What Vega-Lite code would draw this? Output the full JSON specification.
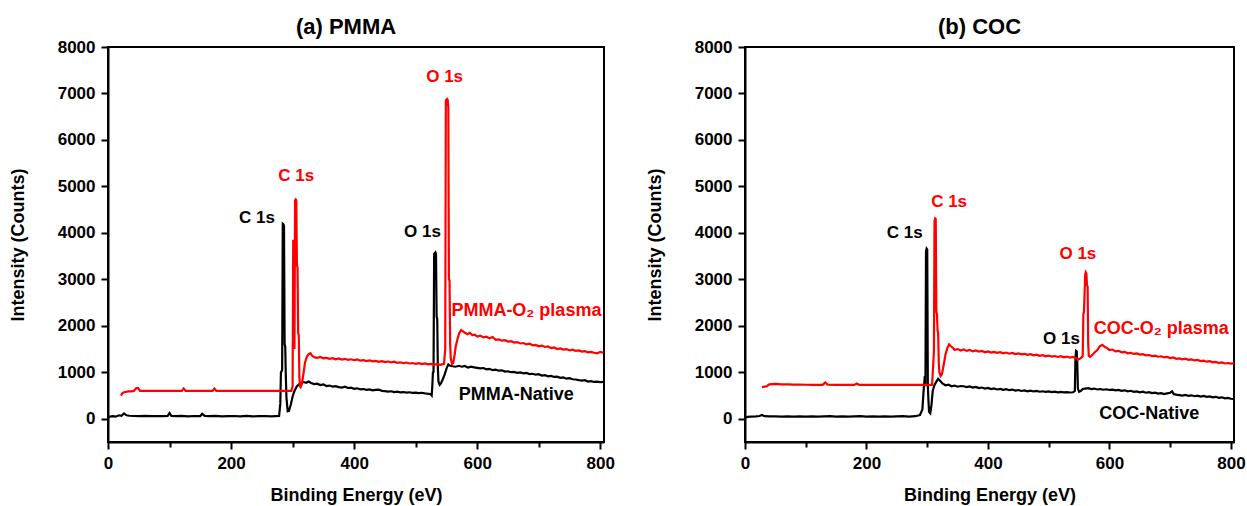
{
  "$schema": "https://vega.github.io/schema/vega-lite/v6.json",
  "padding": {"left": 8, "top": 15, "right": 2, "bottom": 2},
  "background": "white",
  "spacing": 29,
  "config": {
    "view": {"stroke": "black", "strokeWidth": 2},
    "font": "Liberation Sans",
    "axis": {
      "grid": false,
      "labelOverlap": false,
      "labelFlush": false,
      "domainColor": "black",
      "domainWidth": 2,
      "tickColor": "black",
      "tickWidth": 2,
      "labelFont": "Liberation Sans",
      "labelFontSize": 17,
      "labelFontWeight": "bold",
      "labelColor": "black",
      "titleFont": "Liberation Sans",
      "titleFontSize": 18,
      "titleFontWeight": "bold",
      "titleColor": "black"
    },
    "title": {"font": "Liberation Sans", "fontSize": 22, "fontWeight": "bold", "color": "black", "anchor": "middle", "offset": -1}
  },
  "datasets": {
    "spectra": [
      {"p":"a","s":"native","x":0,"y":20},{"p":"a","s":"native","x":3,"y":45},{"p":"a","s":"native","x":8,"y":55},{"p":"a","s":"native","x":12,"y":45},{"p":"a","s":"native","x":18,"y":75},{"p":"a","s":"native","x":22,"y":65},{"p":"a","s":"native","x":26,"y":115},{"p":"a","s":"native","x":30,"y":75},{"p":"a","s":"native","x":35,"y":65},{"p":"a","s":"native","x":42,"y":60},{"p":"a","s":"native","x":50,"y":58},{"p":"a","s":"native","x":60,"y":62},{"p":"a","s":"native","x":70,"y":55},{"p":"a","s":"native","x":80,"y":60},{"p":"a","s":"native","x":90,"y":55},{"p":"a","s":"native","x":97,"y":62},{"p":"a","s":"native","x":100,"y":125},{"p":"a","s":"native","x":103,"y":62},{"p":"a","s":"native","x":110,"y":55},{"p":"a","s":"native","x":120,"y":60},{"p":"a","s":"native","x":130,"y":52},{"p":"a","s":"native","x":140,"y":60},{"p":"a","s":"native","x":150,"y":58},{"p":"a","s":"native","x":153,"y":105},{"p":"a","s":"native","x":157,"y":62},{"p":"a","s":"native","x":165,"y":55},{"p":"a","s":"native","x":175,"y":60},{"p":"a","s":"native","x":185,"y":50},{"p":"a","s":"native","x":195,"y":58},{"p":"a","s":"native","x":205,"y":60},{"p":"a","s":"native","x":215,"y":52},{"p":"a","s":"native","x":225,"y":60},{"p":"a","s":"native","x":235,"y":50},{"p":"a","s":"native","x":245,"y":58},{"p":"a","s":"native","x":255,"y":60},{"p":"a","s":"native","x":265,"y":50},{"p":"a","s":"native","x":272,"y":55},{"p":"a","s":"native","x":278,"y":60},{"p":"a","s":"native","x":280,"y":320},{"p":"a","s":"native","x":281,"y":1000},{"p":"a","s":"native","x":282,"y":1020},{"p":"a","s":"native","x":283,"y":1050},{"p":"a","s":"native","x":284,"y":4200},{"p":"a","s":"native","x":285,"y":4190},{"p":"a","s":"native","x":286,"y":4150},{"p":"a","s":"native","x":287,"y":1600},{"p":"a","s":"native","x":288,"y":1550},{"p":"a","s":"native","x":289,"y":900},{"p":"a","s":"native","x":290,"y":450},{"p":"a","s":"native","x":292,"y":160},{"p":"a","s":"native","x":294,"y":170},{"p":"a","s":"native","x":297,"y":300},{"p":"a","s":"native","x":300,"y":480},{"p":"a","s":"native","x":303,"y":600},{"p":"a","s":"native","x":307,"y":700},{"p":"a","s":"native","x":312,"y":760},{"p":"a","s":"native","x":318,"y":790},{"p":"a","s":"native","x":322,"y":775},{"p":"a","s":"native","x":326,"y":800},{"p":"a","s":"native","x":330,"y":770},{"p":"a","s":"native","x":335,"y":745},{"p":"a","s":"native","x":340,"y":755},{"p":"a","s":"native","x":345,"y":725},{"p":"a","s":"native","x":350,"y":740},{"p":"a","s":"native","x":355,"y":705},{"p":"a","s":"native","x":360,"y":715},{"p":"a","s":"native","x":365,"y":690},{"p":"a","s":"native","x":370,"y":700},{"p":"a","s":"native","x":375,"y":680},{"p":"a","s":"native","x":380,"y":672},{"p":"a","s":"native","x":385,"y":690},{"p":"a","s":"native","x":390,"y":662},{"p":"a","s":"native","x":395,"y":668},{"p":"a","s":"native","x":400,"y":645},{"p":"a","s":"native","x":405,"y":655},{"p":"a","s":"native","x":410,"y":632},{"p":"a","s":"native","x":415,"y":640},{"p":"a","s":"native","x":420,"y":622},{"p":"a","s":"native","x":425,"y":630},{"p":"a","s":"native","x":430,"y":610},{"p":"a","s":"native","x":435,"y":620},{"p":"a","s":"native","x":440,"y":628},{"p":"a","s":"native","x":445,"y":600},{"p":"a","s":"native","x":450,"y":595},{"p":"a","s":"native","x":455,"y":585},{"p":"a","s":"native","x":460,"y":592},{"p":"a","s":"native","x":465,"y":575},{"p":"a","s":"native","x":470,"y":582},{"p":"a","s":"native","x":475,"y":570},{"p":"a","s":"native","x":480,"y":575},{"p":"a","s":"native","x":485,"y":562},{"p":"a","s":"native","x":490,"y":570},{"p":"a","s":"native","x":495,"y":558},{"p":"a","s":"native","x":500,"y":562},{"p":"a","s":"native","x":505,"y":552},{"p":"a","s":"native","x":510,"y":560},{"p":"a","s":"native","x":515,"y":545},{"p":"a","s":"native","x":520,"y":538},{"p":"a","s":"native","x":524,"y":530},{"p":"a","s":"native","x":526,"y":500},{"p":"a","s":"native","x":527,"y":700},{"p":"a","s":"native","x":528,"y":1000},{"p":"a","s":"native","x":529,"y":1010},{"p":"a","s":"native","x":530,"y":3550},{"p":"a","s":"native","x":532,"y":3580},{"p":"a","s":"native","x":533,"y":3540},{"p":"a","s":"native","x":534,"y":2200},{"p":"a","s":"native","x":535,"y":2150},{"p":"a","s":"native","x":536,"y":1100},{"p":"a","s":"native","x":537,"y":800},{"p":"a","s":"native","x":539,"y":730},{"p":"a","s":"native","x":541,"y":760},{"p":"a","s":"native","x":544,"y":850},{"p":"a","s":"native","x":547,"y":950},{"p":"a","s":"native","x":550,"y":1080},{"p":"a","s":"native","x":553,"y":1170},{"p":"a","s":"native","x":556,"y":1140},{"p":"a","s":"native","x":560,"y":1130},{"p":"a","s":"native","x":565,"y":1120},{"p":"a","s":"native","x":570,"y":1140},{"p":"a","s":"native","x":575,"y":1120},{"p":"a","s":"native","x":580,"y":1135},{"p":"a","s":"native","x":585,"y":1100},{"p":"a","s":"native","x":590,"y":1120},{"p":"a","s":"native","x":595,"y":1105},{"p":"a","s":"native","x":600,"y":1095},{"p":"a","s":"native","x":605,"y":1085},{"p":"a","s":"native","x":610,"y":1092},{"p":"a","s":"native","x":615,"y":1065},{"p":"a","s":"native","x":620,"y":1075},{"p":"a","s":"native","x":625,"y":1045},{"p":"a","s":"native","x":630,"y":1058},{"p":"a","s":"native","x":635,"y":1035},{"p":"a","s":"native","x":640,"y":1042},{"p":"a","s":"native","x":645,"y":1015},{"p":"a","s":"native","x":650,"y":1022},{"p":"a","s":"native","x":655,"y":1002},{"p":"a","s":"native","x":660,"y":1010},{"p":"a","s":"native","x":665,"y":990},{"p":"a","s":"native","x":670,"y":998},{"p":"a","s":"native","x":675,"y":978},{"p":"a","s":"native","x":680,"y":985},{"p":"a","s":"native","x":685,"y":960},{"p":"a","s":"native","x":690,"y":968},{"p":"a","s":"native","x":695,"y":948},{"p":"a","s":"native","x":700,"y":958},{"p":"a","s":"native","x":705,"y":930},{"p":"a","s":"native","x":710,"y":940},{"p":"a","s":"native","x":715,"y":912},{"p":"a","s":"native","x":720,"y":922},{"p":"a","s":"native","x":725,"y":900},{"p":"a","s":"native","x":730,"y":905},{"p":"a","s":"native","x":735,"y":880},{"p":"a","s":"native","x":740,"y":890},{"p":"a","s":"native","x":745,"y":862},{"p":"a","s":"native","x":750,"y":872},{"p":"a","s":"native","x":755,"y":850},{"p":"a","s":"native","x":760,"y":845},{"p":"a","s":"native","x":765,"y":832},{"p":"a","s":"native","x":770,"y":822},{"p":"a","s":"native","x":775,"y":830},{"p":"a","s":"native","x":780,"y":800},{"p":"a","s":"native","x":785,"y":810},{"p":"a","s":"native","x":790,"y":792},{"p":"a","s":"native","x":795,"y":798},{"p":"a","s":"native","x":800,"y":790},{"p":"a","s":"native","x":805,"y":792},

      {"p":"a","s":"plasma","x":21,"y":500},{"p":"a","s":"plasma","x":24,"y":560},{"p":"a","s":"plasma","x":28,"y":575},{"p":"a","s":"plasma","x":33,"y":590},{"p":"a","s":"plasma","x":38,"y":590},{"p":"a","s":"plasma","x":42,"y":600},{"p":"a","s":"plasma","x":46,"y":660},{"p":"a","s":"plasma","x":49,"y":660},{"p":"a","s":"plasma","x":52,"y":600},{"p":"a","s":"plasma","x":60,"y":600},{"p":"a","s":"plasma","x":80,"y":600},{"p":"a","s":"plasma","x":100,"y":600},{"p":"a","s":"plasma","x":120,"y":600},{"p":"a","s":"plasma","x":123,"y":650},{"p":"a","s":"plasma","x":126,"y":600},{"p":"a","s":"plasma","x":150,"y":600},{"p":"a","s":"plasma","x":170,"y":600},{"p":"a","s":"plasma","x":173,"y":650},{"p":"a","s":"plasma","x":176,"y":600},{"p":"a","s":"plasma","x":210,"y":600},{"p":"a","s":"plasma","x":250,"y":600},{"p":"a","s":"plasma","x":298,"y":600},{"p":"a","s":"plasma","x":300,"y":700},{"p":"a","s":"plasma","x":301,"y":3850},{"p":"a","s":"plasma","x":302,"y":3800},{"p":"a","s":"plasma","x":303,"y":1500},{"p":"a","s":"plasma","x":304,"y":4700},{"p":"a","s":"plasma","x":305,"y":4720},{"p":"a","s":"plasma","x":306,"y":4700},{"p":"a","s":"plasma","x":307,"y":3300},{"p":"a","s":"plasma","x":308,"y":3250},{"p":"a","s":"plasma","x":309,"y":1850},{"p":"a","s":"plasma","x":310,"y":1800},{"p":"a","s":"plasma","x":311,"y":900},{"p":"a","s":"plasma","x":312,"y":700},{"p":"a","s":"plasma","x":313,"y":680},{"p":"a","s":"plasma","x":315,"y":750},{"p":"a","s":"plasma","x":318,"y":1000},{"p":"a","s":"plasma","x":320,"y":1200},{"p":"a","s":"plasma","x":323,"y":1330},{"p":"a","s":"plasma","x":326,"y":1390},{"p":"a","s":"plasma","x":329,"y":1410},{"p":"a","s":"plasma","x":332,"y":1350},{"p":"a","s":"plasma","x":336,"y":1320},{"p":"a","s":"plasma","x":340,"y":1310},{"p":"a","s":"plasma","x":345,"y":1330},{"p":"a","s":"plasma","x":350,"y":1300},{"p":"a","s":"plasma","x":355,"y":1310},{"p":"a","s":"plasma","x":360,"y":1290},{"p":"a","s":"plasma","x":365,"y":1305},{"p":"a","s":"plasma","x":370,"y":1280},{"p":"a","s":"plasma","x":375,"y":1300},{"p":"a","s":"plasma","x":380,"y":1275},{"p":"a","s":"plasma","x":385,"y":1290},{"p":"a","s":"plasma","x":390,"y":1268},{"p":"a","s":"plasma","x":395,"y":1280},{"p":"a","s":"plasma","x":400,"y":1260},{"p":"a","s":"plasma","x":405,"y":1275},{"p":"a","s":"plasma","x":410,"y":1250},{"p":"a","s":"plasma","x":415,"y":1262},{"p":"a","s":"plasma","x":420,"y":1240},{"p":"a","s":"plasma","x":425,"y":1255},{"p":"a","s":"plasma","x":430,"y":1235},{"p":"a","s":"plasma","x":435,"y":1245},{"p":"a","s":"plasma","x":440,"y":1225},{"p":"a","s":"plasma","x":445,"y":1240},{"p":"a","s":"plasma","x":450,"y":1220},{"p":"a","s":"plasma","x":455,"y":1232},{"p":"a","s":"plasma","x":460,"y":1215},{"p":"a","s":"plasma","x":465,"y":1228},{"p":"a","s":"plasma","x":470,"y":1205},{"p":"a","s":"plasma","x":475,"y":1215},{"p":"a","s":"plasma","x":480,"y":1195},{"p":"a","s":"plasma","x":485,"y":1210},{"p":"a","s":"plasma","x":490,"y":1190},{"p":"a","s":"plasma","x":495,"y":1200},{"p":"a","s":"plasma","x":500,"y":1180},{"p":"a","s":"plasma","x":505,"y":1195},{"p":"a","s":"plasma","x":510,"y":1175},{"p":"a","s":"plasma","x":515,"y":1190},{"p":"a","s":"plasma","x":520,"y":1170},{"p":"a","s":"plasma","x":525,"y":1180},{"p":"a","s":"plasma","x":530,"y":1165},{"p":"a","s":"plasma","x":535,"y":1175},{"p":"a","s":"plasma","x":540,"y":1160},{"p":"a","s":"plasma","x":543,"y":1170},{"p":"a","s":"plasma","x":546,"y":1180},{"p":"a","s":"plasma","x":548,"y":1500},{"p":"a","s":"plasma","x":549,"y":6850},{"p":"a","s":"plasma","x":551,"y":6880},{"p":"a","s":"plasma","x":552,"y":6860},{"p":"a","s":"plasma","x":553,"y":6700},{"p":"a","s":"plasma","x":554,"y":3000},{"p":"a","s":"plasma","x":555,"y":2980},{"p":"a","s":"plasma","x":556,"y":1600},{"p":"a","s":"plasma","x":557,"y":1300},{"p":"a","s":"plasma","x":559,"y":1180},{"p":"a","s":"plasma","x":561,"y":1200},{"p":"a","s":"plasma","x":563,"y":1350},{"p":"a","s":"plasma","x":565,"y":1550},{"p":"a","s":"plasma","x":568,"y":1720},{"p":"a","s":"plasma","x":571,"y":1850},{"p":"a","s":"plasma","x":574,"y":1910},{"p":"a","s":"plasma","x":577,"y":1880},{"p":"a","s":"plasma","x":580,"y":1850},{"p":"a","s":"plasma","x":584,"y":1820},{"p":"a","s":"plasma","x":588,"y":1850},{"p":"a","s":"plasma","x":592,"y":1800},{"p":"a","s":"plasma","x":596,"y":1810},{"p":"a","s":"plasma","x":600,"y":1770},{"p":"a","s":"plasma","x":605,"y":1790},{"p":"a","s":"plasma","x":610,"y":1750},{"p":"a","s":"plasma","x":615,"y":1765},{"p":"a","s":"plasma","x":620,"y":1730},{"p":"a","s":"plasma","x":625,"y":1760},{"p":"a","s":"plasma","x":630,"y":1700},{"p":"a","s":"plasma","x":635,"y":1710},{"p":"a","s":"plasma","x":640,"y":1680},{"p":"a","s":"plasma","x":645,"y":1690},{"p":"a","s":"plasma","x":650,"y":1660},{"p":"a","s":"plasma","x":655,"y":1670},{"p":"a","s":"plasma","x":660,"y":1640},{"p":"a","s":"plasma","x":665,"y":1650},{"p":"a","s":"plasma","x":670,"y":1620},{"p":"a","s":"plasma","x":675,"y":1630},{"p":"a","s":"plasma","x":680,"y":1600},{"p":"a","s":"plasma","x":685,"y":1615},{"p":"a","s":"plasma","x":690,"y":1580},{"p":"a","s":"plasma","x":695,"y":1590},{"p":"a","s":"plasma","x":700,"y":1560},{"p":"a","s":"plasma","x":705,"y":1575},{"p":"a","s":"plasma","x":710,"y":1545},{"p":"a","s":"plasma","x":715,"y":1555},{"p":"a","s":"plasma","x":720,"y":1520},{"p":"a","s":"plasma","x":725,"y":1535},{"p":"a","s":"plasma","x":730,"y":1500},{"p":"a","s":"plasma","x":735,"y":1515},{"p":"a","s":"plasma","x":740,"y":1490},{"p":"a","s":"plasma","x":745,"y":1500},{"p":"a","s":"plasma","x":750,"y":1470},{"p":"a","s":"plasma","x":755,"y":1485},{"p":"a","s":"plasma","x":760,"y":1460},{"p":"a","s":"plasma","x":765,"y":1470},{"p":"a","s":"plasma","x":770,"y":1445},{"p":"a","s":"plasma","x":775,"y":1455},{"p":"a","s":"plasma","x":780,"y":1430},{"p":"a","s":"plasma","x":785,"y":1440},{"p":"a","s":"plasma","x":790,"y":1420},{"p":"a","s":"plasma","x":795,"y":1410},{"p":"a","s":"plasma","x":800,"y":1440},{"p":"a","s":"plasma","x":805,"y":1420},

      {"p":"b","s":"native","x":0,"y":20},{"p":"b","s":"native","x":4,"y":40},{"p":"b","s":"native","x":10,"y":45},{"p":"b","s":"native","x":18,"y":50},{"p":"b","s":"native","x":24,"y":60},{"p":"b","s":"native","x":28,"y":80},{"p":"b","s":"native","x":32,"y":55},{"p":"b","s":"native","x":40,"y":50},{"p":"b","s":"native","x":50,"y":52},{"p":"b","s":"native","x":60,"y":48},{"p":"b","s":"native","x":70,"y":52},{"p":"b","s":"native","x":80,"y":45},{"p":"b","s":"native","x":90,"y":50},{"p":"b","s":"native","x":100,"y":48},{"p":"b","s":"native","x":110,"y":52},{"p":"b","s":"native","x":120,"y":45},{"p":"b","s":"native","x":130,"y":50},{"p":"b","s":"native","x":140,"y":55},{"p":"b","s":"native","x":150,"y":48},{"p":"b","s":"native","x":160,"y":52},{"p":"b","s":"native","x":170,"y":45},{"p":"b","s":"native","x":180,"y":50},{"p":"b","s":"native","x":190,"y":55},{"p":"b","s":"native","x":200,"y":45},{"p":"b","s":"native","x":210,"y":50},{"p":"b","s":"native","x":220,"y":48},{"p":"b","s":"native","x":230,"y":52},{"p":"b","s":"native","x":240,"y":45},{"p":"b","s":"native","x":250,"y":50},{"p":"b","s":"native","x":260,"y":55},{"p":"b","s":"native","x":270,"y":48},{"p":"b","s":"native","x":280,"y":55},{"p":"b","s":"native","x":288,"y":80},{"p":"b","s":"native","x":292,"y":200},{"p":"b","s":"native","x":294,"y":600},{"p":"b","s":"native","x":296,"y":920},{"p":"b","s":"native","x":297,"y":700},{"p":"b","s":"native","x":298,"y":3600},{"p":"b","s":"native","x":299,"y":3660},{"p":"b","s":"native","x":300,"y":3640},{"p":"b","s":"native","x":301,"y":700},{"p":"b","s":"native","x":302,"y":400},{"p":"b","s":"native","x":303,"y":150},{"p":"b","s":"native","x":305,"y":120},{"p":"b","s":"native","x":307,"y":300},{"p":"b","s":"native","x":309,"y":600},{"p":"b","s":"native","x":312,"y":730},{"p":"b","s":"native","x":315,"y":800},{"p":"b","s":"native","x":318,"y":860},{"p":"b","s":"native","x":321,"y":820},{"p":"b","s":"native","x":325,"y":760},{"p":"b","s":"native","x":330,"y":720},{"p":"b","s":"native","x":335,"y":735},{"p":"b","s":"native","x":340,"y":700},{"p":"b","s":"native","x":345,"y":715},{"p":"b","s":"native","x":350,"y":690},{"p":"b","s":"native","x":355,"y":705},{"p":"b","s":"native","x":360,"y":700},{"p":"b","s":"native","x":365,"y":680},{"p":"b","s":"native","x":370,"y":695},{"p":"b","s":"native","x":375,"y":670},{"p":"b","s":"native","x":380,"y":685},{"p":"b","s":"native","x":385,"y":660},{"p":"b","s":"native","x":390,"y":672},{"p":"b","s":"native","x":395,"y":650},{"p":"b","s":"native","x":400,"y":662},{"p":"b","s":"native","x":405,"y":640},{"p":"b","s":"native","x":410,"y":652},{"p":"b","s":"native","x":415,"y":630},{"p":"b","s":"native","x":420,"y":642},{"p":"b","s":"native","x":425,"y":622},{"p":"b","s":"native","x":430,"y":635},{"p":"b","s":"native","x":435,"y":615},{"p":"b","s":"native","x":440,"y":628},{"p":"b","s":"native","x":445,"y":605},{"p":"b","s":"native","x":450,"y":618},{"p":"b","s":"native","x":455,"y":598},{"p":"b","s":"native","x":460,"y":610},{"p":"b","s":"native","x":465,"y":592},{"p":"b","s":"native","x":470,"y":605},{"p":"b","s":"native","x":475,"y":588},{"p":"b","s":"native","x":480,"y":598},{"p":"b","s":"native","x":485,"y":582},{"p":"b","s":"native","x":490,"y":592},{"p":"b","s":"native","x":495,"y":578},{"p":"b","s":"native","x":500,"y":588},{"p":"b","s":"native","x":505,"y":575},{"p":"b","s":"native","x":510,"y":584},{"p":"b","s":"native","x":515,"y":570},{"p":"b","s":"native","x":520,"y":580},{"p":"b","s":"native","x":525,"y":568},{"p":"b","s":"native","x":530,"y":575},{"p":"b","s":"native","x":535,"y":565},{"p":"b","s":"native","x":540,"y":570},{"p":"b","s":"native","x":543,"y":600},{"p":"b","s":"native","x":544,"y":1300},{"p":"b","s":"native","x":545,"y":1460},{"p":"b","s":"native","x":546,"y":1450},{"p":"b","s":"native","x":547,"y":1200},{"p":"b","s":"native","x":548,"y":650},{"p":"b","s":"native","x":550,"y":580},{"p":"b","s":"native","x":553,"y":600},{"p":"b","s":"native","x":556,"y":640},{"p":"b","s":"native","x":560,"y":650},{"p":"b","s":"native","x":565,"y":660},{"p":"b","s":"native","x":570,"y":640},{"p":"b","s":"native","x":575,"y":650},{"p":"b","s":"native","x":580,"y":630},{"p":"b","s":"native","x":585,"y":640},{"p":"b","s":"native","x":590,"y":625},{"p":"b","s":"native","x":595,"y":635},{"p":"b","s":"native","x":600,"y":620},{"p":"b","s":"native","x":605,"y":628},{"p":"b","s":"native","x":610,"y":610},{"p":"b","s":"native","x":615,"y":620},{"p":"b","s":"native","x":620,"y":600},{"p":"b","s":"native","x":625,"y":612},{"p":"b","s":"native","x":630,"y":590},{"p":"b","s":"native","x":635,"y":602},{"p":"b","s":"native","x":640,"y":580},{"p":"b","s":"native","x":645,"y":590},{"p":"b","s":"native","x":650,"y":570},{"p":"b","s":"native","x":655,"y":582},{"p":"b","s":"native","x":660,"y":560},{"p":"b","s":"native","x":665,"y":572},{"p":"b","s":"native","x":670,"y":552},{"p":"b","s":"native","x":675,"y":560},{"p":"b","s":"native","x":680,"y":540},{"p":"b","s":"native","x":685,"y":552},{"p":"b","s":"native","x":690,"y":530},{"p":"b","s":"native","x":695,"y":545},{"p":"b","s":"native","x":700,"y":560},{"p":"b","s":"native","x":703,"y":590},{"p":"b","s":"native","x":706,"y":530},{"p":"b","s":"native","x":710,"y":520},{"p":"b","s":"native","x":715,"y":510},{"p":"b","s":"native","x":720,"y":500},{"p":"b","s":"native","x":725,"y":512},{"p":"b","s":"native","x":730,"y":495},{"p":"b","s":"native","x":735,"y":505},{"p":"b","s":"native","x":740,"y":485},{"p":"b","s":"native","x":745,"y":498},{"p":"b","s":"native","x":750,"y":478},{"p":"b","s":"native","x":755,"y":490},{"p":"b","s":"native","x":760,"y":470},{"p":"b","s":"native","x":765,"y":482},{"p":"b","s":"native","x":770,"y":462},{"p":"b","s":"native","x":775,"y":472},{"p":"b","s":"native","x":780,"y":450},{"p":"b","s":"native","x":785,"y":462},{"p":"b","s":"native","x":790,"y":440},{"p":"b","s":"native","x":795,"y":450},{"p":"b","s":"native","x":800,"y":430},{"p":"b","s":"native","x":805,"y":425},

      {"p":"b","s":"plasma","x":28,"y":680},{"p":"b","s":"plasma","x":32,"y":690},{"p":"b","s":"plasma","x":36,"y":700},{"p":"b","s":"plasma","x":40,"y":740},{"p":"b","s":"plasma","x":44,"y":745},{"p":"b","s":"plasma","x":50,"y":750},{"p":"b","s":"plasma","x":60,"y":740},{"p":"b","s":"plasma","x":70,"y":738},{"p":"b","s":"plasma","x":80,"y":735},{"p":"b","s":"plasma","x":90,"y":735},{"p":"b","s":"plasma","x":100,"y":732},{"p":"b","s":"plasma","x":110,"y":730},{"p":"b","s":"plasma","x":128,"y":730},{"p":"b","s":"plasma","x":132,"y":780},{"p":"b","s":"plasma","x":136,"y":735},{"p":"b","s":"plasma","x":150,"y":730},{"p":"b","s":"plasma","x":180,"y":730},{"p":"b","s":"plasma","x":184,"y":760},{"p":"b","s":"plasma","x":188,"y":730},{"p":"b","s":"plasma","x":220,"y":730},{"p":"b","s":"plasma","x":260,"y":730},{"p":"b","s":"plasma","x":308,"y":730},{"p":"b","s":"plasma","x":310,"y":1200},{"p":"b","s":"plasma","x":311,"y":1450},{"p":"b","s":"plasma","x":312,"y":4250},{"p":"b","s":"plasma","x":313,"y":4310},{"p":"b","s":"plasma","x":314,"y":4300},{"p":"b","s":"plasma","x":315,"y":2300},{"p":"b","s":"plasma","x":316,"y":2250},{"p":"b","s":"plasma","x":317,"y":1900},{"p":"b","s":"plasma","x":318,"y":1850},{"p":"b","s":"plasma","x":319,"y":1200},{"p":"b","s":"plasma","x":320,"y":1000},{"p":"b","s":"plasma","x":322,"y":920},{"p":"b","s":"plasma","x":324,"y":950},{"p":"b","s":"plasma","x":327,"y":1150},{"p":"b","s":"plasma","x":330,"y":1380},{"p":"b","s":"plasma","x":333,"y":1520},{"p":"b","s":"plasma","x":336,"y":1600},{"p":"b","s":"plasma","x":339,"y":1560},{"p":"b","s":"plasma","x":342,"y":1530},{"p":"b","s":"plasma","x":345,"y":1480},{"p":"b","s":"plasma","x":350,"y":1500},{"p":"b","s":"plasma","x":355,"y":1470},{"p":"b","s":"plasma","x":360,"y":1490},{"p":"b","s":"plasma","x":365,"y":1460},{"p":"b","s":"plasma","x":370,"y":1480},{"p":"b","s":"plasma","x":375,"y":1450},{"p":"b","s":"plasma","x":380,"y":1470},{"p":"b","s":"plasma","x":385,"y":1445},{"p":"b","s":"plasma","x":390,"y":1460},{"p":"b","s":"plasma","x":395,"y":1430},{"p":"b","s":"plasma","x":400,"y":1450},{"p":"b","s":"plasma","x":405,"y":1425},{"p":"b","s":"plasma","x":410,"y":1440},{"p":"b","s":"plasma","x":415,"y":1418},{"p":"b","s":"plasma","x":420,"y":1432},{"p":"b","s":"plasma","x":425,"y":1410},{"p":"b","s":"plasma","x":430,"y":1425},{"p":"b","s":"plasma","x":435,"y":1400},{"p":"b","s":"plasma","x":440,"y":1415},{"p":"b","s":"plasma","x":445,"y":1392},{"p":"b","s":"plasma","x":450,"y":1405},{"p":"b","s":"plasma","x":455,"y":1385},{"p":"b","s":"plasma","x":460,"y":1398},{"p":"b","s":"plasma","x":465,"y":1375},{"p":"b","s":"plasma","x":470,"y":1390},{"p":"b","s":"plasma","x":475,"y":1365},{"p":"b","s":"plasma","x":480,"y":1380},{"p":"b","s":"plasma","x":485,"y":1355},{"p":"b","s":"plasma","x":490,"y":1368},{"p":"b","s":"plasma","x":495,"y":1345},{"p":"b","s":"plasma","x":500,"y":1360},{"p":"b","s":"plasma","x":505,"y":1338},{"p":"b","s":"plasma","x":510,"y":1350},{"p":"b","s":"plasma","x":515,"y":1330},{"p":"b","s":"plasma","x":520,"y":1345},{"p":"b","s":"plasma","x":525,"y":1322},{"p":"b","s":"plasma","x":530,"y":1338},{"p":"b","s":"plasma","x":535,"y":1315},{"p":"b","s":"plasma","x":540,"y":1330},{"p":"b","s":"plasma","x":545,"y":1300},{"p":"b","s":"plasma","x":548,"y":1270},{"p":"b","s":"plasma","x":551,"y":1290},{"p":"b","s":"plasma","x":554,"y":1320},{"p":"b","s":"plasma","x":556,"y":1350},{"p":"b","s":"plasma","x":557,"y":2250},{"p":"b","s":"plasma","x":558,"y":2300},{"p":"b","s":"plasma","x":560,"y":3100},{"p":"b","s":"plasma","x":561,"y":3150},{"p":"b","s":"plasma","x":562,"y":3120},{"p":"b","s":"plasma","x":563,"y":2870},{"p":"b","s":"plasma","x":564,"y":2850},{"p":"b","s":"plasma","x":565,"y":1600},{"p":"b","s":"plasma","x":566,"y":1350},{"p":"b","s":"plasma","x":568,"y":1330},{"p":"b","s":"plasma","x":571,"y":1360},{"p":"b","s":"plasma","x":575,"y":1420},{"p":"b","s":"plasma","x":580,"y":1480},{"p":"b","s":"plasma","x":584,"y":1560},{"p":"b","s":"plasma","x":588,"y":1590},{"p":"b","s":"plasma","x":592,"y":1550},{"p":"b","s":"plasma","x":596,"y":1520},{"p":"b","s":"plasma","x":600,"y":1480},{"p":"b","s":"plasma","x":605,"y":1490},{"p":"b","s":"plasma","x":610,"y":1450},{"p":"b","s":"plasma","x":615,"y":1462},{"p":"b","s":"plasma","x":620,"y":1430},{"p":"b","s":"plasma","x":625,"y":1440},{"p":"b","s":"plasma","x":630,"y":1410},{"p":"b","s":"plasma","x":635,"y":1420},{"p":"b","s":"plasma","x":640,"y":1395},{"p":"b","s":"plasma","x":645,"y":1405},{"p":"b","s":"plasma","x":650,"y":1380},{"p":"b","s":"plasma","x":655,"y":1390},{"p":"b","s":"plasma","x":660,"y":1365},{"p":"b","s":"plasma","x":665,"y":1372},{"p":"b","s":"plasma","x":670,"y":1350},{"p":"b","s":"plasma","x":675,"y":1358},{"p":"b","s":"plasma","x":680,"y":1335},{"p":"b","s":"plasma","x":685,"y":1345},{"p":"b","s":"plasma","x":690,"y":1320},{"p":"b","s":"plasma","x":695,"y":1330},{"p":"b","s":"plasma","x":700,"y":1305},{"p":"b","s":"plasma","x":705,"y":1318},{"p":"b","s":"plasma","x":710,"y":1290},{"p":"b","s":"plasma","x":715,"y":1300},{"p":"b","s":"plasma","x":720,"y":1280},{"p":"b","s":"plasma","x":725,"y":1292},{"p":"b","s":"plasma","x":730,"y":1268},{"p":"b","s":"plasma","x":735,"y":1278},{"p":"b","s":"plasma","x":740,"y":1255},{"p":"b","s":"plasma","x":745,"y":1265},{"p":"b","s":"plasma","x":750,"y":1240},{"p":"b","s":"plasma","x":755,"y":1250},{"p":"b","s":"plasma","x":760,"y":1228},{"p":"b","s":"plasma","x":765,"y":1240},{"p":"b","s":"plasma","x":770,"y":1215},{"p":"b","s":"plasma","x":775,"y":1225},{"p":"b","s":"plasma","x":780,"y":1200},{"p":"b","s":"plasma","x":785,"y":1212},{"p":"b","s":"plasma","x":790,"y":1190},{"p":"b","s":"plasma","x":795,"y":1200},{"p":"b","s":"plasma","x":800,"y":1185},{"p":"b","s":"plasma","x":805,"y":1190}
    ],
    "labels": [
      {"p":"a","s":"native","k":"peak","x":242,"y":4314,"t":"C 1s"},
      {"p":"a","s":"plasma","k":"peak","x":306,"y":5234,"t":"C 1s"},
      {"p":"a","s":"native","k":"peak","x":511,"y":4012,"t":"O 1s"},
      {"p":"a","s":"plasma","k":"peak","x":547,"y":7355,"t":"O 1s"},
      {"p":"a","s":"plasma","k":"name","x":558,"y":2322,"t":"PMMA-O₂ plasma"},
      {"p":"a","s":"native","k":"name","x":570,"y":503,"t":"PMMA-Native"},
      {"p":"b","s":"native","k":"peak","x":263,"y":4000,"t":"C 1s"},
      {"p":"b","s":"plasma","k":"peak","x":336,"y":4656,"t":"C 1s"},
      {"p":"b","s":"plasma","k":"peak","x":548,"y":3546,"t":"O 1s"},
      {"p":"b","s":"native","k":"peak","x":521,"y":1715,"t":"O 1s"},
      {"p":"b","s":"plasma","k":"name","x":574,"y":1931,"t":"COC-O₂ plasma"},
      {"p":"b","s":"native","k":"name","x":583,"y":94,"t":"COC-Native"}
    ]
  },
  "hconcat": [
    {
      "width": 496,
      "height": 395,
      "title": {"text": "(a) PMMA", "dx": -10},
      "layer": [
        {
          "data": {"name": "spectra"},
          "transform": [{"filter": "datum.p === 'a'"}],
          "mark": {"type": "line", "strokeWidth": 2.2, "clip": true},
          "encoding": {
            "x": {"field": "x", "type": "quantitative", "scale": {"domain": [0, 806], "nice": false, "zero": false},
              "axis": {"title": "Binding Energy (eV)", "values": [0,100,200,300,400,500,600,700,800],
                "labelOverlap": false, "labelFlush": false,
                "labelExpr": "datum.value % 200 === 0 ? datum.label : ''",
                "tickSize": {"condition": {"test": "datum.value % 200 === 0", "value": 7}, "value": 5},
                "labelPadding": 6, "titlePadding": 15}},
            "y": {"field": "y", "type": "quantitative", "scale": {"domain": [-500, 8000], "nice": false, "zero": false},
              "axis": {"title": "Intensity (Counts)", "values": [0,1000,2000,3000,4000,5000,6000,7000,8000],
                "format": "d", "labelOverlap": false, "labelFlush": false,
                "tickSize": 7,
                "labelPadding": 6, "titlePadding": 30}},
            "color": {"field": "s", "type": "nominal", "scale": {"domain": ["native", "plasma"], "range": ["#000000", "#ff0000"]}, "legend": null},
            "order": {"field": "x", "type": "quantitative"}
          }
        },
        {
          "data": {"name": "labels"},
          "transform": [{"filter": "datum.p === 'a' && datum.k === 'peak'"}],
          "mark": {"type": "text", "fontSize": 17, "fontWeight": "bold", "align": "center", "baseline": "middle"},
          "encoding": {
            "x": {"field": "x", "type": "quantitative"},
            "y": {"field": "y", "type": "quantitative"},
            "text": {"field": "t"},
            "color": {"field": "s", "type": "nominal", "legend": null}
          }
        },
        {
          "data": {"name": "labels"},
          "transform": [{"filter": "datum.p === 'a' && datum.k === 'name'"}],
          "mark": {"type": "text", "fontSize": 18, "fontWeight": "bold", "align": "left", "baseline": "middle"},
          "encoding": {
            "x": {"field": "x", "type": "quantitative"},
            "y": {"field": "y", "type": "quantitative"},
            "text": {"field": "t"},
            "color": {"field": "s", "type": "nominal", "legend": null}
          }
        }
      ]
    },
    {
      "width": 489,
      "height": 395,
      "title": {"text": "(b) COC", "dx": -10},
      "layer": [
        {
          "data": {"name": "spectra"},
          "transform": [{"filter": "datum.p === 'b'"}],
          "mark": {"type": "line", "strokeWidth": 2.2, "clip": true},
          "encoding": {
            "x": {"field": "x", "type": "quantitative", "scale": {"domain": [0, 805], "nice": false, "zero": false},
              "axis": {"title": "Binding Energy (eV)", "values": [0,100,200,300,400,500,600,700,800],
                "labelOverlap": false, "labelFlush": false,
                "labelExpr": "datum.value % 200 === 0 ? datum.label : ''",
                "tickSize": {"condition": {"test": "datum.value % 200 === 0", "value": 7}, "value": 5},
                "labelPadding": 6, "titlePadding": 15}},
            "y": {"field": "y", "type": "quantitative", "scale": {"domain": [-500, 8000], "nice": false, "zero": false},
              "axis": {"title": "Intensity (Counts)", "values": [0,1000,2000,3000,4000,5000,6000,7000,8000],
                "format": "d", "labelOverlap": false, "labelFlush": false,
                "tickSize": 7,
                "labelPadding": 6, "titlePadding": 30}},
            "color": {"field": "s", "type": "nominal", "scale": {"domain": ["native", "plasma"], "range": ["#000000", "#ff0000"]}, "legend": null},
            "order": {"field": "x", "type": "quantitative"}
          }
        },
        {
          "data": {"name": "labels"},
          "transform": [{"filter": "datum.p === 'b' && datum.k === 'peak'"}],
          "mark": {"type": "text", "fontSize": 17, "fontWeight": "bold", "align": "center", "baseline": "middle"},
          "encoding": {
            "x": {"field": "x", "type": "quantitative"},
            "y": {"field": "y", "type": "quantitative"},
            "text": {"field": "t"},
            "color": {"field": "s", "type": "nominal", "legend": null}
          }
        },
        {
          "data": {"name": "labels"},
          "transform": [{"filter": "datum.p === 'b' && datum.k === 'name'"}],
          "mark": {"type": "text", "fontSize": 18, "fontWeight": "bold", "align": "left", "baseline": "middle"},
          "encoding": {
            "x": {"field": "x", "type": "quantitative"},
            "y": {"field": "y", "type": "quantitative"},
            "text": {"field": "t"},
            "color": {"field": "s", "type": "nominal", "legend": null}
          }
        }
      ]
    }
  ]
}
